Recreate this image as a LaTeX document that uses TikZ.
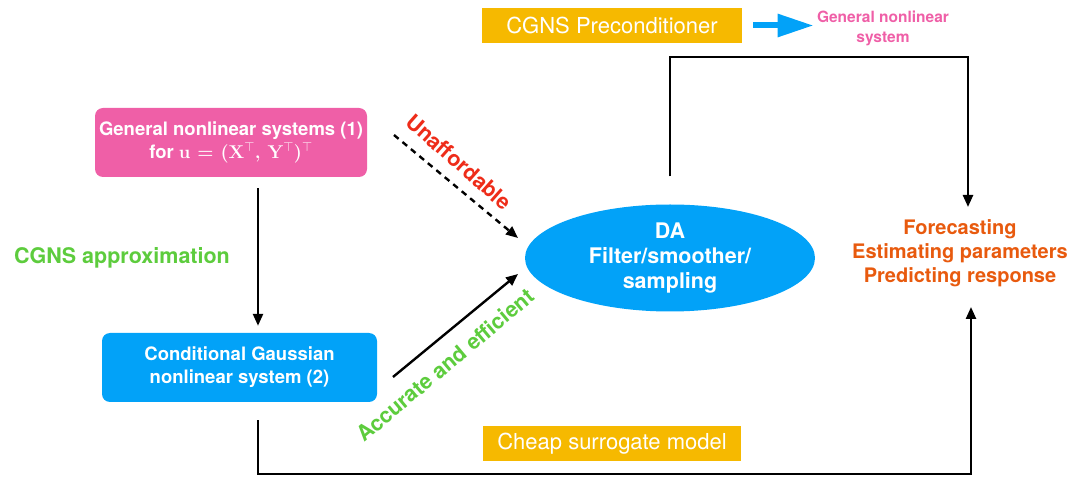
\documentclass[tikz,border=0pt]{standalone}
\usepackage{fix-cm}
\usepackage{amsmath}
\usepackage{amssymb}
\usepackage[no-math]{fontspec}
\setmainfont{TeX Gyre Heros}
\newfontfamily\lmroman{Latin Modern Roman}
\usepackage{tikz}
\usetikzlibrary{calc}
\usetikzlibrary{shapes.geometric}
\usetikzlibrary{arrows.meta}

\definecolor{boxpink}{HTML}{EF5FA7}
\definecolor{boxblue}{HTML}{02A2F8}
\definecolor{boxgold}{HTML}{F6B900}
\definecolor{txtgreen}{HTML}{5DCC3D}
\definecolor{txtred}{HTML}{EE2C19}
\definecolor{txtorange}{HTML}{E85A0E}

\newcommand{\tp}{${}^{\top}$}

\tikzset{
	sysbox/.style={rectangle, rounded corners=8pt, text=white, align=center, font=\fontsize{18.5}{23}\selectfont\bfseries, inner sep=0pt},
	tagbox/.style={rectangle, fill=boxgold, text=white, font=\fontsize{22}{26}\selectfont, inner sep=0pt, minimum height=35pt},
	flow/.style={line width=2.4pt, -{Triangle[length=12pt,width=10pt]}},
	lbl/.style={font=\fontsize{21.5}{25}\selectfont\bfseries, align=center}
}

\begin{document}
\begin{tikzpicture}[x=1pt, y=-1pt]
			\useasboundingbox (0,0) rectangle (1072,478);
			
			% boxes
			\node[sysbox, fill=boxpink, minimum width=272pt, minimum height=69pt] (gns) at (231,142.5) {General nonlinear systems (1)\\for {\lmroman u = (X\tp, Y\tp)\tp}};
			\node[sysbox, fill=boxblue, minimum width=275pt, minimum height=69pt] (cgns) at (239.5,367.5) {Conditional Gaussian\\nonlinear system (2)};
			\node[ellipse, fill=boxblue, text=white, inner sep=0pt, minimum width=290pt, minimum height=107pt, align=center, font=\fontsize{21.5}{25}\selectfont\bfseries] (da) at (670,258) {DA\\Filter/smoother/\\sampling};
			\node[lbl, text=txtorange, font=\fontsize{20}{24}\selectfont\bfseries] (out) at (960,253) {Forecasting\\Estimating parameters\\Predicting response};
			
			\node[tagbox, minimum width=260pt] (pre) at (612,25.5) {CGNS Preconditioner};
			\node[lbl, text=boxpink, font=\fontsize{15.5}{20}\selectfont\bfseries] (gen) at (883,28) {General nonlinear\\system};
			\node[tagbox, minimum width=258pt] (cheap) at (612,444) {Cheap surrogate model};
			
			% labels
			\node[lbl, text=txtgreen] (approx) at (122,258) {CGNS approximation};
			\node[lbl, text=txtred, rotate=-41.5] (unaff) at (459,162) {Unaffordable};
			\node[lbl, text=txtgreen, rotate=40] (accur) at (445,365) {Accurate and efficient};
			
			% arrows
			\coordinate (ga) at ($(gns.south)+(27,0)$);
			\coordinate (ca) at ($(cgns.south)+(18.5,0)$);
			\coordinate (d1) at (394,135);
			\coordinate (d2) at (518,238);
			\coordinate (s1) at (393,377);
			\coordinate (s2) at (518,274);
			\coordinate (otop) at (968,207);
			\coordinate (obot) at (971,307);
			
			\draw[flow, shorten <=11pt, shorten >=7pt] (ga) -- (ga |- cgns.north);
			\draw[flow, dash pattern=on 6pt off 5pt] (d1) -- (d2);
			\draw[flow] (s1) -- (s2);
			\draw[flow, shorten <=28pt] (da.north) -- ++(0,-147) -| (otop);
			\draw[flow, shorten <=18pt] (ca) -- ++(0,72) -| (obot);
			\draw[line width=6pt, boxblue, -{Triangle[length=36pt,width=22pt]}, shorten <=11pt] (pre.east) -- (pre.east -| gen.west);
		\end{tikzpicture}
\end{document}
